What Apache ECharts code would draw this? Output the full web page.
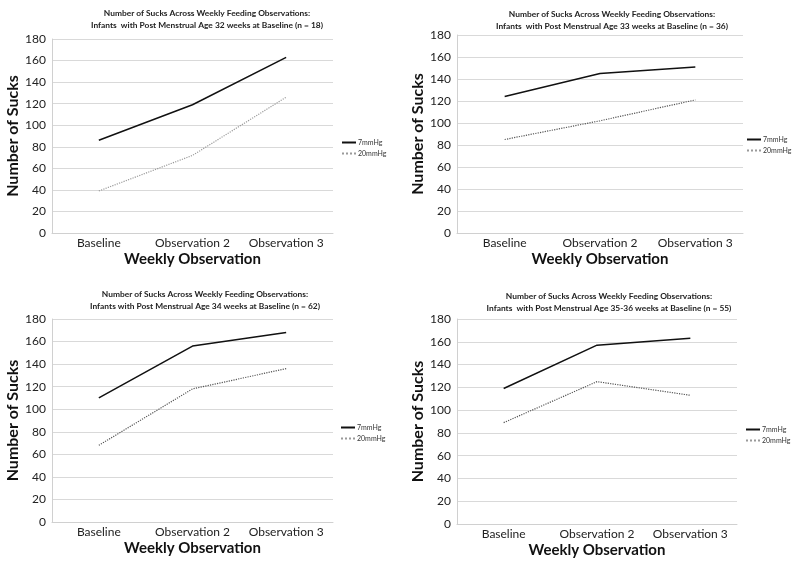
<!DOCTYPE html>
<html><head><meta charset="utf-8">
<script src="https://cdn.jsdelivr.net/npm/echarts@6/dist/echarts.min.js"></script>
<style>html,body{margin:0;padding:0;background:#fff}#c{width:800px;height:567px}</style>
</head><body><div id="c"></div>
<script>
var categories = ['Baseline', 'Observation 2', 'Observation 3'];
var seriesNames = ['7mmHg', '20mmHg'];
var titles = [
  ['Number of Sucks Across Weekly Feeding Observations:', 'Infants  with Post Menstrual Age 32 weeks at Baseline (n = 18)'],
  ['Number of Sucks Across Weekly Feeding Observations:', 'Infants  with Post Menstrual Age 33 weeks at Baseline (n = 36)'],
  ['Number of Sucks Across Weekly Feeding Observations:', 'Infants with Post Menstrual Age 34 weeks at Baseline (n = 62)'],
  ['Number of Sucks Across Weekly Feeding Observations:', 'Infants  with Post Menstrual Age 35-36 weeks at Baseline (n = 55)']
];
var p32_7 = [86, 119, 163];
var p32_20 = [39, 72, 126];
var p33_7 = [124, 145, 151];
var p33_20 = [85, 102, 121];
var p34_7 = [110, 156, 168];
var p34_20 = [68, 118, 136];
var p35_7 = [119, 157, 163];
var p35_20 = [89, 125, 113];
var yTicks = { min: 0, max: 180, interval: 20 };
var yName = 'Number of Sucks';
var xName = 'Weekly Observation';

var panels = [
  { s7: p32_7, s20: p32_20, grid: { left: 52, top: 39, width: 281, height: 194 }, title: [207, 12], legend: [336, 134], dotColor: '#9a9a9a' },
  { s7: p33_7, s20: p33_20, grid: { left: 457, top: 35, width: 286, height: 198 }, title: [612, 13], legend: [741, 131], dotColor: '#555' },
  { s7: p34_7, s20: p34_20, grid: { left: 52, top: 319, width: 281, height: 203 }, title: [205, 293], legend: [335, 419], dotColor: '#555' },
  { s7: p35_7, s20: p35_20, grid: { left: 457, top: 319, width: 280, height: 205 }, title: [609, 295], legend: [740, 421], dotColor: '#555' }
];

var FONT = 'Lato';
var option = { animation: false, textStyle: { fontFamily: FONT }, grid: [], xAxis: [], yAxis: [], series: [], legend: [], graphic: [] };
panels.forEach(function (p, i) {
  option.grid.push(Object.assign({ containLabel: false }, p.grid));
  option.xAxis.push({
    type: 'category', gridIndex: i, data: categories, boundaryGap: true,
    axisLine: { show: true, lineStyle: { color: '#d0d0d0' } }, axisTick: { show: false },
    axisLabel: { fontSize: 12, color: '#222', margin: 4, fontFamily: FONT, interval: 0 },
    name: xName, nameLocation: 'middle', nameGap: 19,
    nameTextStyle: { fontSize: 15, fontWeight: 'bold', color: '#111', fontFamily: FONT }
  });
  option.yAxis.push({
    type: 'value', gridIndex: i, min: yTicks.min, max: yTicks.max, interval: yTicks.interval,
    axisLine: { show: true, lineStyle: { color: '#d0d0d0' } }, axisTick: { show: false },
    axisLabel: { fontSize: 12, color: '#222', margin: 6, fontFamily: FONT },
    splitLine: { show: true, lineStyle: { color: '#d9d9d9', width: 1 } },
    name: yName, nameLocation: 'middle', nameGap: 29,
    nameTextStyle: { fontSize: 16, fontWeight: 'bold', color: '#111', fontFamily: FONT }
  });
  option.series.push({
    name: seriesNames[0], type: 'line', xAxisIndex: i, yAxisIndex: i, data: p.s7,
    symbol: 'none', lineStyle: { color: '#111', width: 1.5, type: 'solid' }, itemStyle: { color: '#111' }
  });
  option.series.push({
    name: seriesNames[1], type: 'line', xAxisIndex: i, yAxisIndex: i, data: p.s20,
    symbol: 'none', lineStyle: { color: p.dotColor, width: 1.2, type: 'dotted' }, itemStyle: { color: p.dotColor }
  });
  option.legend.push({
    orient: 'vertical', left: p.legend[0], top: p.legend[1], data: seriesNames,
    itemWidth: 14, itemHeight: 8, itemGap: 4, selectedMode: false,
    itemStyle: { opacity: 0 },
    textStyle: { fontSize: 7, color: '#333', fontFamily: FONT, padding: [0, 0, 0, -3] }
  });
  option.graphic.push({
    type: 'text', x: p.title[0], y: p.title[1] - 5,
    style: { text: titles[i][0] + '\n' + titles[i][1], textAlign: 'center', fontSize: 8.4, fontWeight: 'bold', lineHeight: 12, fill: '#222', fontFamily: FONT }
  });
});
var chart = echarts.init(document.getElementById('c'), null, { renderer: 'canvas' });
chart.setOption(option);
</script></body></html>
